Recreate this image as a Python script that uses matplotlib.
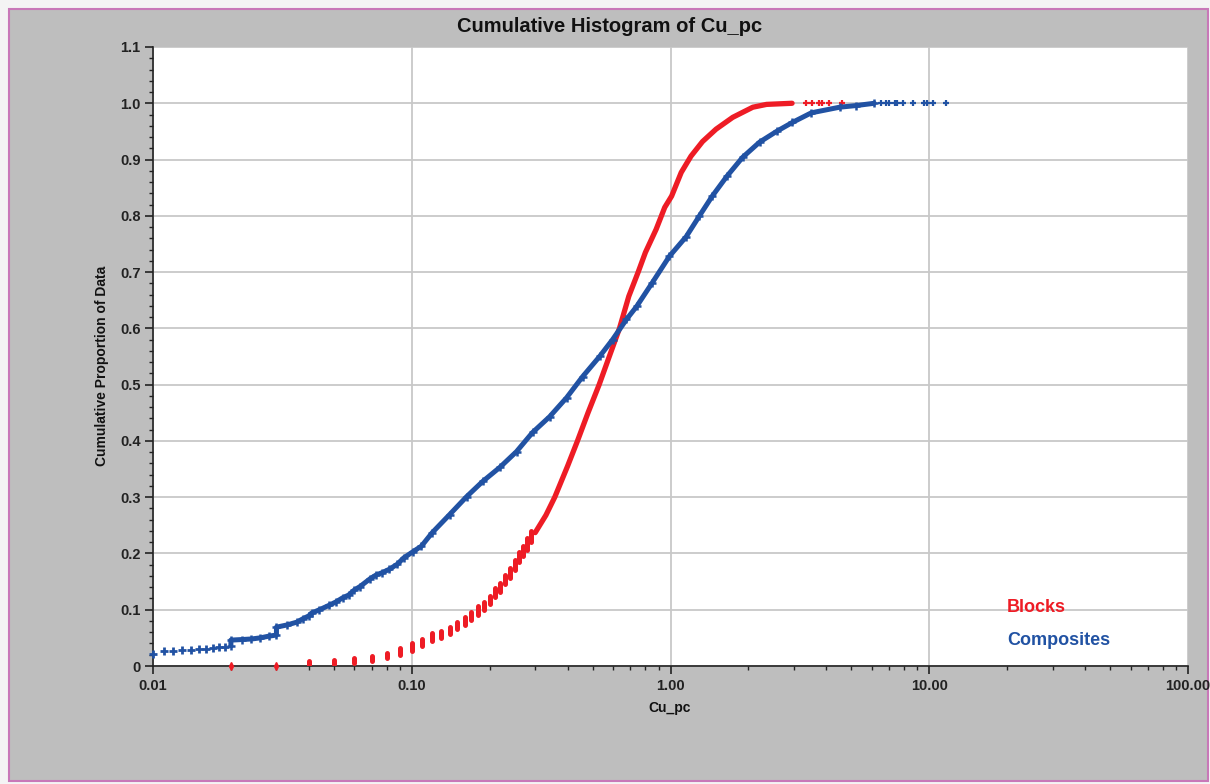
import matplotlib
matplotlib.use("Agg")
import matplotlib.pyplot as plt
from matplotlib.patches import Rectangle
from matplotlib.ticker import LogLocator, MultipleLocator, NullFormatter

plt.rcParams["font.family"] = ["Liberation Sans", "DejaVu Sans"]

# Blocks: single points at zero, stacked values at each 0.01 step, dense curve, top tail
blocks_zero_x = [0.02, 0.03]
blocks_step_x = [0.04, 0.05, 0.06, 0.07, 0.08, 0.09, 0.10, 0.11, 0.12, 0.13, 0.14, 0.15, 0.16,
                 0.17, 0.18, 0.19, 0.20, 0.21, 0.22, 0.23, 0.24, 0.25, 0.26, 0.27, 0.28, 0.29]
blocks_step_lo = [0.000, 0.004, 0.006, 0.009, 0.014, 0.020, 0.027, 0.036, 0.045, 0.050, 0.057, 0.066, 0.073,
                  0.082, 0.091, 0.100, 0.110, 0.122, 0.131, 0.145, 0.157, 0.171, 0.184, 0.196, 0.207, 0.220]
blocks_step_hi = [0.009, 0.011, 0.014, 0.018, 0.023, 0.032, 0.041, 0.048, 0.059, 0.062, 0.069, 0.078, 0.087,
                  0.096, 0.107, 0.114, 0.125, 0.138, 0.148, 0.162, 0.175, 0.189, 0.202, 0.213, 0.228, 0.240]
blocks_x = [0.30, 0.33, 0.357, 0.40, 0.437, 0.48, 0.53, 0.58, 0.635, 0.69, 0.75, 0.80, 0.88, 0.95,
            1.01, 1.10, 1.20, 1.33, 1.50, 1.74, 2.08, 2.35, 2.95]
blocks_y = [0.237, 0.268, 0.300, 0.355, 0.400, 0.450, 0.500, 0.550, 0.600, 0.657, 0.700, 0.735, 0.776, 0.815,
            0.835, 0.877, 0.906, 0.932, 0.954, 0.975, 0.993, 0.998, 1.000]
blocks_tail_x = [3.35, 3.53, 3.75, 3.85, 4.1, 4.6]

# Composites
comp_low_x = [0.010, 0.011, 0.012, 0.013, 0.014, 0.015, 0.016, 0.017, 0.018, 0.019]
comp_low_y = [0.021, 0.026, 0.027, 0.028, 0.029, 0.030, 0.031, 0.032, 0.033, 0.034]
comp_x = [0.020, 0.020, 0.022, 0.024, 0.026, 0.028, 0.030, 0.030, 0.033, 0.036, 0.038, 0.040, 0.041,
          0.044, 0.048, 0.051, 0.054, 0.057, 0.060, 0.063, 0.069, 0.073, 0.077, 0.082, 0.088, 0.093,
          0.101, 0.109, 0.120, 0.140, 0.163, 0.188, 0.219, 0.254, 0.293, 0.341, 0.397, 0.457, 0.532,
          0.597, 0.676, 0.74, 0.85, 0.99, 1.15, 1.29, 1.45, 1.65, 1.90, 2.21, 2.57, 2.96, 3.5, 4.5,
          5.23, 6.13]
comp_y = [0.036, 0.046, 0.047, 0.048, 0.050, 0.053, 0.055, 0.069, 0.073, 0.078, 0.084, 0.089, 0.094,
          0.100, 0.108, 0.114, 0.121, 0.126, 0.135, 0.141, 0.155, 0.162, 0.166, 0.172, 0.181, 0.192,
          0.203, 0.213, 0.237, 0.269, 0.301, 0.328, 0.353, 0.381, 0.415, 0.443, 0.477, 0.514, 0.550,
          0.580, 0.616, 0.639, 0.681, 0.728, 0.763, 0.799, 0.835, 0.870, 0.904, 0.931, 0.950, 0.966, 0.983, 0.993,
          0.996, 1.000]
comp_tail_x = [6.53, 6.83, 7.01, 7.39, 7.52, 7.94, 8.68, 9.57, 9.82, 10.3, 11.6]

x_ticks = [0.01, 0.1, 1, 10, 100]
x_labels = ["0.01", "0.10", "1.00", "10.00", "100.00"]
y_ticks = [0, 0.1, 0.2, 0.3, 0.4, 0.5, 0.6, 0.7, 0.8, 0.9, 1.0, 1.1]
y_labels = ["0", "0.1", "0.2", "0.3", "0.4", "0.5", "0.6", "0.7", "0.8", "0.9", "1.0", "1.1"]

RED = "#ee1c25"
BLUE = "#2152a3"

fig = plt.figure(figsize=(12.1, 7.84), dpi=100)
fig.patch.set_facecolor("#f4f4f4")
frame = Rectangle((9 / 1210, 3 / 784), 1199 / 1210, 772 / 784, transform=fig.transFigure,
                  facecolor="#bebebe", edgecolor="#c878b8", linewidth=1.5, zorder=-10)
fig.add_artist(frame)

ax = fig.add_axes([153 / 1210, 118 / 784, 1035 / 1210, 619 / 784])
ax.set_zorder(1)
ax.set_facecolor("white")
ax.set_xscale("log")
ax.set_xlim(0.01, 100)
ax.set_ylim(0, 1.1)

ax.grid(True, which="major", color="#c8c8c8", linewidth=1.3)
ax.set_axisbelow(True)
for s in ["top", "right"]:
    ax.spines[s].set_visible(False)
for s in ["left", "bottom"]:
    ax.spines[s].set_color("#222222")
    ax.spines[s].set_linewidth(1.2)

# Blocks
ax.plot(blocks_zero_x, [0] * len(blocks_zero_x), linestyle="none", marker="d",
        color=RED, markersize=4, clip_on=False, zorder=3)
ax.vlines(blocks_step_x, blocks_step_lo, blocks_step_hi, color=RED, linewidth=3.6,
          capstyle="round", zorder=3)
ax.plot(blocks_x, blocks_y, color=RED, linewidth=3.8, solid_capstyle="round", zorder=3)
ax.plot(blocks_tail_x, [1.0] * len(blocks_tail_x), linestyle="none", marker="+",
        color=RED, markersize=5, markeredgewidth=1.6, zorder=3)

# Composites
ax.plot(comp_low_x, comp_low_y, linestyle="none", marker="+", color=BLUE,
        markersize=6, markeredgewidth=2, zorder=4, clip_on=False)
ax.plot(comp_x, comp_y, color=BLUE, linewidth=3.6, marker="+", markersize=6,
        markeredgewidth=1.8, solid_capstyle="round", zorder=4)
ax.plot(comp_tail_x, [1.0] * len(comp_tail_x), linestyle="none", marker="+",
        color=BLUE, markersize=5, markeredgewidth=1.6, zorder=4)

ax.set_xticks(x_ticks)
ax.set_xticklabels(x_labels)
ax.xaxis.set_minor_locator(LogLocator(base=10, subs=range(2, 10)))
ax.xaxis.set_minor_formatter(NullFormatter())
ax.set_yticks(y_ticks)
ax.set_yticklabels(y_labels)
ax.yaxis.set_minor_locator(MultipleLocator(0.02))

ax.tick_params(axis="both", which="major", direction="out", length=6, width=1.2,
               colors="#222222", labelsize=10.5, pad=3)
ax.tick_params(axis="both", which="minor", direction="out", length=3, width=1.0, colors="#222222")
for lab in ax.get_xticklabels() + ax.get_yticklabels():
    lab.set_fontweight("bold")

ax.text(0.825, 0.095, "Blocks", transform=ax.transAxes, color=RED, fontsize=13,
        fontweight="bold", va="center", ha="left")
ax.text(0.825, 0.042, "Composites", transform=ax.transAxes, color=BLUE, fontsize=13,
        fontweight="bold", va="center", ha="left")

fig.text(610 / 1210, 1 - 27 / 784, "Cumulative Histogram of Cu_pc", ha="center", va="center",
         fontsize=14.5, fontweight="bold", color="#111111")
fig.text(102 / 1210, 1 - 366 / 784, "Cumulative Proportion of Data", rotation=90,
         ha="center", va="center", fontsize=10, fontweight="bold", color="#111111")
fig.text(670 / 1210, 1 - 708 / 784, "Cu_pc", ha="center", va="center",
         fontsize=10, fontweight="bold", color="#111111")

fig.savefig("out.png", dpi=100, facecolor=fig.get_facecolor())
